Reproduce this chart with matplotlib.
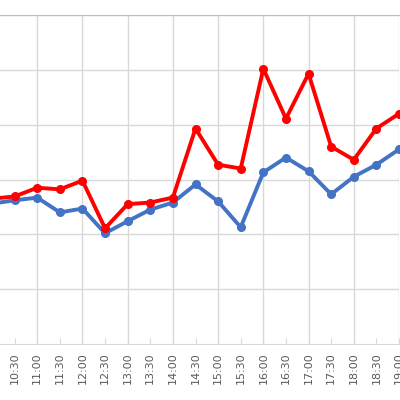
import matplotlib
matplotlib.use("Agg")
import matplotlib.pyplot as plt

times = ["10:00","10:30","11:00","11:30","12:00","12:30","13:00","13:30","14:00","14:30",
         "15:00","15:30","16:00","16:30","17:00","17:30","18:00","18:30","19:00"]
red_vals = [26.5, 26.9, 28.5, 28.2, 29.8, 21.1, 25.5, 25.8, 26.7, 39.3,
            32.7, 32.0, 50.2, 41.1, 49.3, 36.0, 33.6, 39.3, 42.0]
blue_vals = [25.6, 26.2, 26.7, 24.0, 24.7, 20.2, 22.4, 24.5, 25.8, 29.1,
             26.0, 21.3, 31.3, 34.0, 31.5, 27.3, 30.5, 32.7, 35.5]

fig = plt.figure(figsize=(4, 4), dpi=100)
ax = fig.add_axes([-8/400, 56/400, 407/400, 329/400])
x = list(range(len(times)))
grid_c = "#d9d9d9"
for yv in range(10, 61, 10):
    ax.axhline(yv, color=grid_c, lw=1, zorder=0)
for i in range(0, len(times), 2):
    ax.axvline(i, color=grid_c, lw=1, zorder=0)
ax.plot(x, blue_vals, color="#4472c4", lw=2.8, marker="o", ms=5.5, zorder=3)
ax.plot(x, red_vals, color="#ff0000", lw=2.8, marker="o", ms=5.5, zorder=4)
ax.set_xlim(0, 18)
ax.set_ylim(0, 60)
ax.set_xticks(x)
ax.set_xticklabels(times, rotation=90, fontsize=8, color="#595959")
ax.tick_params(axis="x", length=4, color=grid_c, direction="in", pad=6)
ax.set_yticks([])
for s in ["left", "right"]:
    ax.spines[s].set_visible(False)
ax.spines["bottom"].set_color(grid_c)
ax.spines["top"].set_color("#bfbfbf")
fig.savefig("out.png", dpi=100)
